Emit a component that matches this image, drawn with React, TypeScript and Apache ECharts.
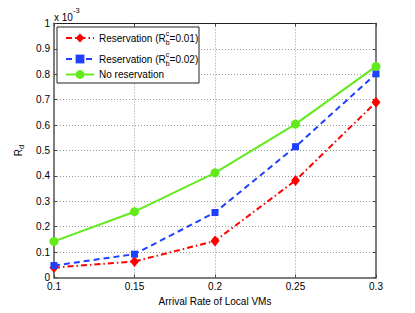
import React, { useEffect, useRef } from "react";
import * as echarts from "echarts";

const xValues = [0.1, 0.15, 0.2, 0.25, 0.3];
const reservation001 = [0.039, 0.063, 0.144, 0.382, 0.69];
const reservation002 = [0.047, 0.092, 0.256, 0.515, 0.802];
const noReservation = [0.142, 0.259, 0.412, 0.604, 0.831];
const seriesNames = ["Reservation (Rbc=0.01)", "Reservation (Rbc=0.02)", "No reservation"];
const legendValues = ["0.01", "0.02"];

const FONT = "Liberation Sans, Arial, Helvetica, sans-serif";
const FS = 10;

const pairs = (ys: number[]) => xValues.map((x, i) => [x, ys[i]]);

export default function App() {
  const ref = useRef<HTMLDivElement>(null);
  useEffect(() => {
    if (!ref.current) return;
    const chart = echarts.init(ref.current, undefined, { renderer: "svg" });
    const richLegend = {
      n: { fontSize: FS, fontFamily: FONT, color: "#000", lineHeight: 16 },
      c: { fontSize: 7, fontFamily: FONT, color: "#000", lineHeight: 7, verticalAlign: "top", width: 0 },
      b: { fontSize: 7, fontFamily: FONT, color: "#000", lineHeight: 7, verticalAlign: "bottom" },
      m: { fontSize: FS, fontFamily: FONT, color: "#000", lineHeight: 11 },
    };
    const legendBase = {
      left: 65,
      orient: "vertical",
      itemWidth: 28,
      itemHeight: 11,
      padding: 0,
      itemGap: 0,
      selectedMode: false,
      textStyle: { fontSize: FS, fontFamily: FONT, color: "#000", rich: richLegend },
    };
    const fmt = (name: string) => {
      const idx = seriesNames.indexOf(name);
      if (idx === 0 || idx === 1) {
        return `{n|Reservation (R}{c|c}{b|b}{n|=${legendValues[idx]})}`;
      }
      return `{m|${name}}`;
    };
    const option: any = {
      animation: false,
      grid: { left: 54, right: 39, top: 23.5, bottom: 35.5, containLabel: false },
      legend: [
        { ...legendBase, top: 30, data: [seriesNames[0]], formatter: fmt },
        { ...legendBase, top: 51, data: [seriesNames[1]], formatter: fmt },
        { ...legendBase, top: 69.5, data: [seriesNames[2]], formatter: fmt },
      ],
      graphic: [
        {
          type: "rect",
          z: 3,
          shape: { x: 57, y: 27, width: 142, height: 56 },
          style: { fill: "#fff", stroke: "#222", lineWidth: 1 },
        },
        {
          type: "text",
          left: 54,
          top: 6,
          style: {
            text: "{n|x 10}{s|-3}",
            rich: {
              n: { fontSize: FS, fontFamily: FONT, fill: "#000", lineHeight: 16, verticalAlign: "bottom" },
              s: { fontSize: 7.5, fontFamily: FONT, fill: "#000", lineHeight: 8, verticalAlign: "top" },
            },
          },
        },
      ],
      xAxis: [
        {
          type: "value",
          min: 0.1,
          max: 0.3,
          interval: 0.05,
          position: "bottom",
          name: "Arrival Rate of Local VMs",
          nameLocation: "middle",
          nameGap: 16,
          nameTextStyle: { fontSize: FS, fontFamily: FONT, color: "#000" },
          axisLine: { show: true, onZero: false, lineStyle: { color: "#7d7d7d", width: 2 } },
          axisTick: { show: true, inside: true, length: 3, lineStyle: { color: "#444" } },
          axisLabel: { fontSize: FS, fontFamily: FONT, color: "#000", margin: 4 },
          splitLine: { show: true, lineStyle: { color: "#9a9a9a", type: [1, 2], width: 1 } },
        },
        {
          type: "value",
          min: 0.1,
          max: 0.3,
          interval: 0.05,
          position: "top",
          axisLine: { show: true, onZero: false, lineStyle: { color: "#222", width: 1 } },
          axisTick: { show: true, inside: true, length: 3, lineStyle: { color: "#444" } },
          axisLabel: { show: false },
          splitLine: { show: false },
        },
      ],
      yAxis: [
        {
          type: "value",
          min: 0,
          max: 1,
          interval: 0.1,
          position: "left",
          name: "{r|R}{d|d}",
          nameLocation: "middle",
          nameGap: 23,
          nameRotate: 90,
          nameTextStyle: {
            rich: {
              r: { fontSize: FS, fontFamily: FONT, color: "#000", lineHeight: 14 },
              d: { fontSize: 7.5, fontFamily: FONT, color: "#000", lineHeight: 7, verticalAlign: "bottom" },
            },
          },
          axisLine: { show: true, onZero: false, lineStyle: { color: "#7d7d7d", width: 2 } },
          axisTick: { show: true, inside: true, length: 3, lineStyle: { color: "#444" } },
          axisLabel: { fontSize: FS, fontFamily: FONT, color: "#000", margin: 4 },
          splitLine: { show: true, lineStyle: { color: "#9a9a9a", type: [1, 2], width: 1 } },
        },
        {
          type: "value",
          min: 0,
          max: 1,
          interval: 0.1,
          position: "right",
          axisLine: { show: true, onZero: false, lineStyle: { color: "#7d7d7d", width: 2 } },
          axisTick: { show: true, inside: true, length: 3, lineStyle: { color: "#444" } },
          axisLabel: { show: false },
          splitLine: { show: false },
        },
      ],
      series: [
        {
          name: seriesNames[0],
          type: "line",
          data: pairs(reservation001),
          symbol: "diamond",
          symbolSize: [9, 11],
          color: "#ff0000",
          lineStyle: { color: "#ff0000", width: 2, type: [6, 3, 1.5, 3] },
          itemStyle: { color: "#ff0000" },
        },
        {
          name: seriesNames[1],
          type: "line",
          data: pairs(reservation002),
          symbol: "rect",
          symbolSize: 7,
          color: "#1f40ff",
          lineStyle: { color: "#1f40ff", width: 2, type: [6, 4] },
          itemStyle: { color: "#1f40ff" },
        },
        {
          name: seriesNames[2],
          type: "line",
          data: pairs(noReservation),
          symbol: "circle",
          symbolSize: 9,
          color: "#62ea1c",
          lineStyle: { color: "#62ea1c", width: 2, type: "solid" },
          itemStyle: { color: "#62ea1c" },
        },
      ],
    };
    chart.setOption(option);
    return () => chart.dispose();
  }, []);
  return (
    <div
      ref={ref}
      style={{ position: "fixed", left: 0, top: 0, width: 415, height: 313, background: "#fff" }}
    />
  );
}
